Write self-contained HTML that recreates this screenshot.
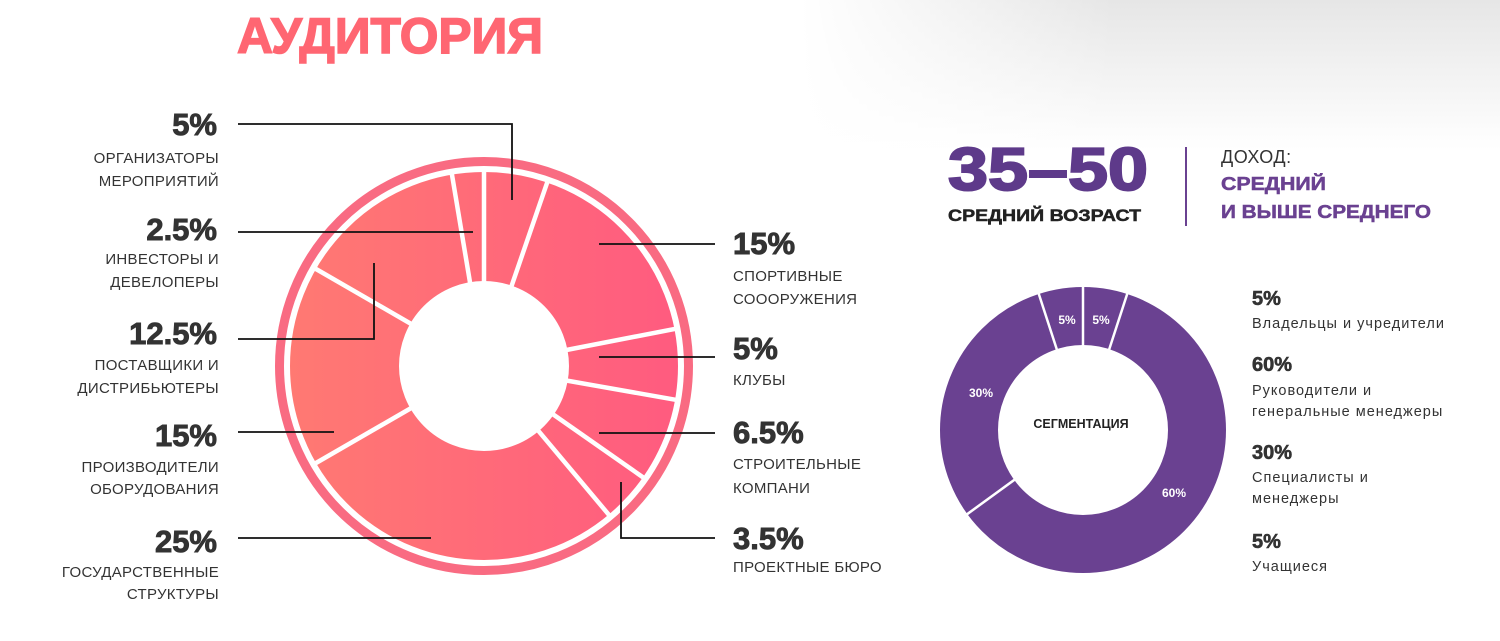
<!DOCTYPE html>
<html><head><meta charset="utf-8"><style>
html,body{margin:0;padding:0;background:#fff}
svg{display:block}
text{font-family:"Liberation Sans","DejaVu Sans",sans-serif}
.p{font-size:31px;font-weight:900;fill:#333;stroke:#333;stroke-width:0.9}
.l{font-size:15px;fill:#333;letter-spacing:0.3px}
.lg{font-size:14.5px;fill:#333;letter-spacing:1px}
.lp{font-size:20px;font-weight:900;fill:#333;stroke:#333;stroke-width:0.6}
</style></head><body>
<svg width="1500" height="641" viewBox="0 0 1500 641" xmlns="http://www.w3.org/2000/svg">
<defs>
<linearGradient id="bgv" x1="0" y1="0" x2="0" y2="1">
<stop offset="0" stop-color="#e6e6e6"/><stop offset="1" stop-color="#fff"/>
</linearGradient>
<linearGradient id="fadeL" x1="0" y1="0" x2="1" y2="0">
<stop offset="0" stop-color="#fff" stop-opacity="1"/><stop offset="0.45" stop-color="#fff" stop-opacity="0"/>
</linearGradient>
<linearGradient id="pk" x1="280" y1="366" x2="690" y2="366" gradientUnits="userSpaceOnUse">
<stop offset="0" stop-color="#ff7a72"/><stop offset="1" stop-color="#ff5a80"/>
</linearGradient>
</defs>
<rect width="1500" height="641" fill="#fff"/>
<rect x="800" y="0" width="700" height="150" fill="url(#bgv)"/>
<rect x="800" y="0" width="700" height="150" fill="url(#fadeL)"/>

<text x="237" y="53" fill="#ff6672" stroke="#ff6672" stroke-width="1.5" textLength="306" lengthAdjust="spacingAndGlyphs" style="font-size:50px;font-weight:900">АУДИТОРИЯ</text>

<!-- main donut -->
<circle cx="484" cy="366" r="204.5" fill="none" stroke="#f96b82" stroke-width="9"/>
<circle cx="484" cy="366" r="139.5" fill="none" stroke="url(#pk)" stroke-width="109"/>
<g stroke="#fff" stroke-width="4.5">
<line x1="0" y1="-80" x2="0" y2="-199" transform="translate(484,366) rotate(0)"/>
<line x1="0" y1="-80" x2="0" y2="-199" transform="translate(484,366) rotate(19)"/>
<line x1="0" y1="-80" x2="0" y2="-199" transform="translate(484,366) rotate(79)"/>
<line x1="0" y1="-80" x2="0" y2="-199" transform="translate(484,366) rotate(100)"/>
<line x1="0" y1="-80" x2="0" y2="-199" transform="translate(484,366) rotate(125)"/>
<line x1="0" y1="-80" x2="0" y2="-199" transform="translate(484,366) rotate(140)"/>
<line x1="0" y1="-80" x2="0" y2="-199" transform="translate(484,366) rotate(240)"/>
<line x1="0" y1="-80" x2="0" y2="-199" transform="translate(484,366) rotate(300)"/>
<line x1="0" y1="-80" x2="0" y2="-199" transform="translate(484,366) rotate(350.5)"/>
</g>

<!-- leaders -->
<g stroke="#111" stroke-width="1.8" fill="none">
<polyline points="238,124 512,124 512,200"/>
<polyline points="238,232 473,232"/>
<polyline points="238,339 374,339 374,263"/>
<polyline points="238,432 334,432"/>
<polyline points="238,538 431,538"/>
<polyline points="599,244 715,244"/>
<polyline points="599,357 715,357"/>
<polyline points="599,433 715,433"/>
<polyline points="621,482 621,538 715,538"/>
</g>

<!-- left labels -->
<g text-anchor="end">
<text class="p" x="217" y="135">5%</text>
<text class="l" x="219" y="163">ОРГАНИЗАТОРЫ</text>
<text class="l" x="219" y="186">МЕРОПРИЯТИЙ</text>
<text class="p" x="217" y="240">2.5%</text>
<text class="l" x="219" y="264">ИНВЕСТОРЫ И</text>
<text class="l" x="219" y="287">ДЕВЕЛОПЕРЫ</text>
<text class="p" x="217" y="344">12.5%</text>
<text class="l" x="219" y="370">ПОСТАВЩИКИ И</text>
<text class="l" x="219" y="393">ДИСТРИБЬЮТЕРЫ</text>
<text class="p" x="217" y="446">15%</text>
<text class="l" x="219" y="472">ПРОИЗВОДИТЕЛИ</text>
<text class="l" x="219" y="494">ОБОРУДОВАНИЯ</text>
<text class="p" x="217" y="552">25%</text>
<text class="l" x="219" y="577">ГОСУДАРСТВЕННЫЕ</text>
<text class="l" x="219" y="599">СТРУКТУРЫ</text>
</g>
<!-- right labels -->
<g>
<text class="p" x="733" y="254">15%</text>
<text class="l" x="733" y="281">СПОРТИВНЫЕ</text>
<text class="l" x="733" y="304">СОООРУЖЕНИЯ</text>
<text class="p" x="733" y="359">5%</text>
<text class="l" x="733" y="385">КЛУБЫ</text>
<text class="p" x="733" y="443">6.5%</text>
<text class="l" x="733" y="469">СТРОИТЕЛЬНЫЕ</text>
<text class="l" x="733" y="493">КОМПАНИ</text>
<text class="p" x="733" y="549">3.5%</text>
<text class="l" x="733" y="572">ПРОЕКТНЫЕ БЮРО</text>
</g>

<!-- right top -->
<text x="948" y="190" fill="#5e3a8a" stroke="#5e3a8a" stroke-width="2" textLength="200" lengthAdjust="spacingAndGlyphs" style="font-size:60px;font-weight:900">35–50</text>
<text x="948" y="221" fill="#222" stroke="#222" stroke-width="0.5" textLength="193" lengthAdjust="spacingAndGlyphs" style="font-size:17px;font-weight:900">СРЕДНИЙ ВОЗРАСТ</text>
<line x1="1186" y1="147" x2="1186" y2="226" stroke="#6a4191" stroke-width="2"/>
<text x="1221" y="163" fill="#333" style="font-size:18px;letter-spacing:0.5px">ДОХОД:</text>
<text x="1221" y="190" fill="#6a4191" stroke="#6a4191" stroke-width="0.5" textLength="105" lengthAdjust="spacingAndGlyphs" style="font-size:18px;font-weight:900">СРЕДНИЙ</text>
<text x="1221" y="218" fill="#6a4191" stroke="#6a4191" stroke-width="0.5" textLength="210" lengthAdjust="spacingAndGlyphs" style="font-size:18px;font-weight:900">И ВЫШЕ СРЕДНЕГО</text>

<!-- purple donut -->
<circle cx="1083" cy="430" r="114" fill="none" stroke="#6a4191" stroke-width="58"/>
<g stroke="#fff" stroke-width="2.5">
<line x1="0" y1="-82" x2="0" y2="-146" transform="translate(1083,430) rotate(0)"/>
<line x1="0" y1="-82" x2="0" y2="-146" transform="translate(1083,430) rotate(18)"/>
<line x1="0" y1="-82" x2="0" y2="-146" transform="translate(1083,430) rotate(234)"/>
<line x1="0" y1="-82" x2="0" y2="-146" transform="translate(1083,430) rotate(342)"/>
</g>
<g fill="#fff" text-anchor="middle" style="font-size:12px;font-weight:900">
<text x="1067" y="324">5%</text>
<text x="1101" y="324">5%</text>
<text x="981" y="397">30%</text>
<text x="1174" y="497">60%</text>
</g>
<text x="1081" y="428" text-anchor="middle" fill="#222" style="font-size:12.5px;font-weight:900">СЕГМЕНТАЦИЯ</text>

<!-- legend -->
<text class="lp" x="1252" y="305">5%</text>
<text class="lg" x="1252" y="328">Владельцы и учредители</text>
<text class="lp" x="1252" y="371">60%</text>
<text class="lg" x="1252" y="395">Руководители и</text>
<text class="lg" x="1252" y="416">генеральные менеджеры</text>
<text class="lp" x="1252" y="459">30%</text>
<text class="lg" x="1252" y="482">Специалисты и</text>
<text class="lg" x="1252" y="503">менеджеры</text>
<text class="lp" x="1252" y="548">5%</text>
<text class="lg" x="1252" y="571">Учащиеся</text>
</svg>
</body></html>
